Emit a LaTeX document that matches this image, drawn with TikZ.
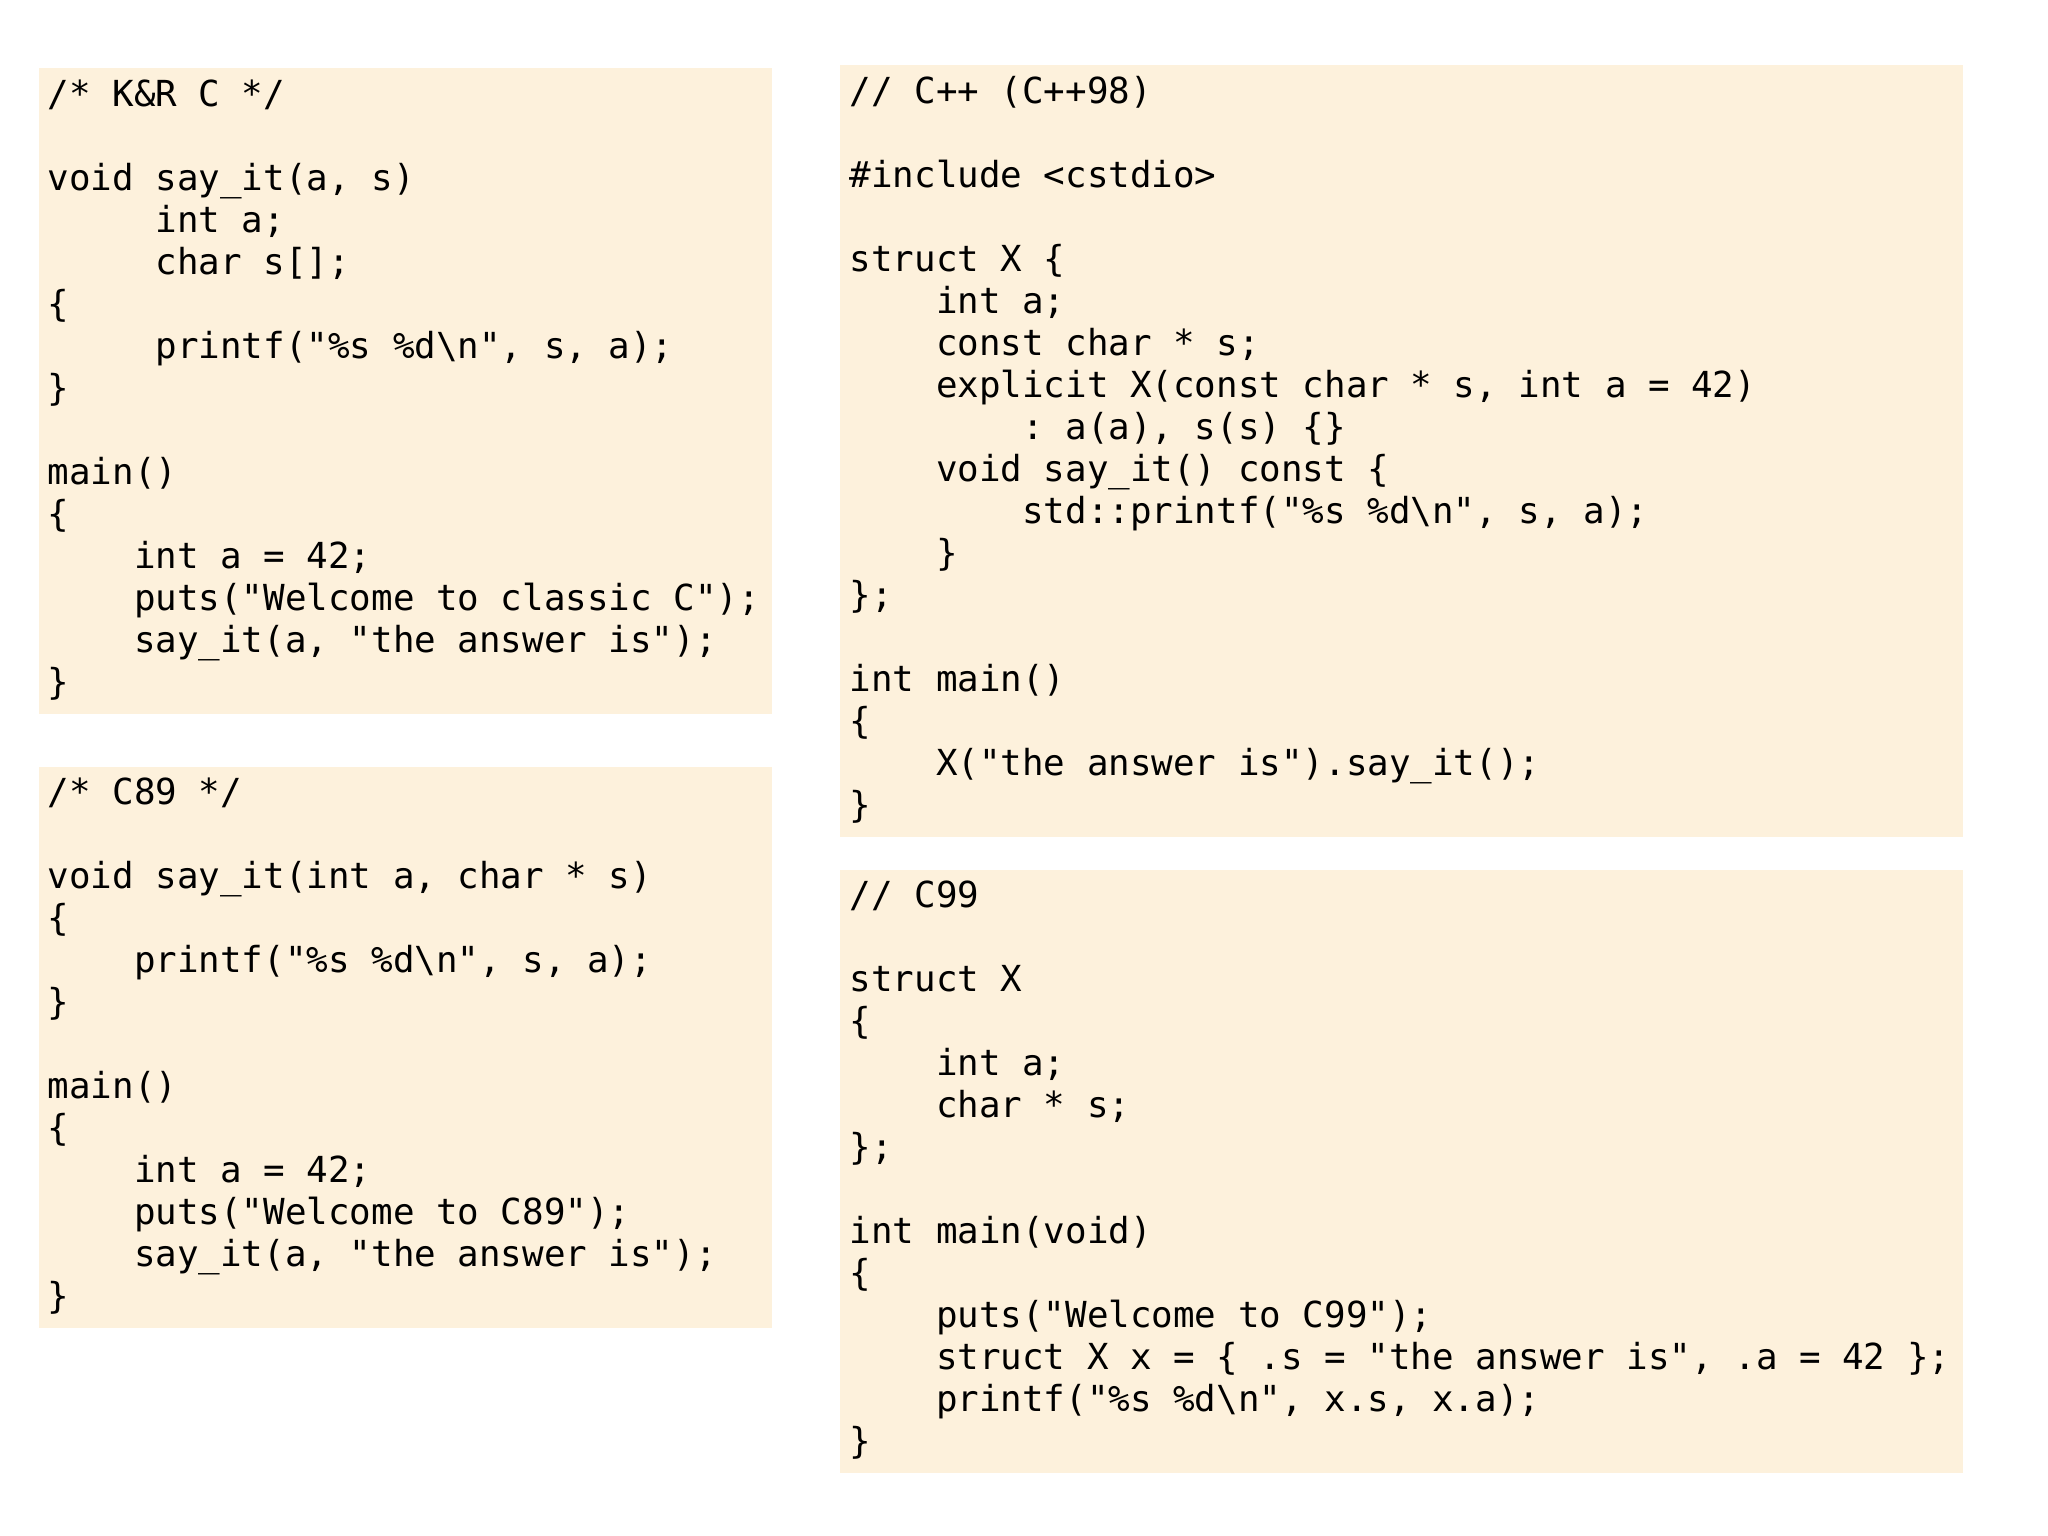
\documentclass[tikz,border=0pt]{standalone}
\usepackage{fontspec}
\setmonofont{DejaVu Sans Mono}
\definecolor{boxbg}{HTML}{FDF1DC}
\begin{document}
\begin{tikzpicture}[x=0.013061cm,y=-0.013061cm,
  code/.style={anchor=base west,align=left,inner sep=0pt,font=\fontsize{10.2pt}{11.95pt}\selectfont\ttfamily}]
\useasboundingbox (0,0) rectangle (1568,1176);
\fill[boxbg] (30,52) rectangle (591,547);
\fill[boxbg] (30,587) rectangle (591,1017);
\fill[boxbg] (643,50) rectangle (1503,641);
\fill[boxbg] (643,666) rectangle (1503,1128);
\node[code] (kr) at (36,532) {/* K\&R C */\\
\mbox{}\\
void say\_it(a, s)\\
~~~~~int a;\\
~~~~~char s[];\\
\{\\
~~~~~printf("\%s \%d\textbackslash n", s, a);\\
\}\\
\mbox{}\\
main()\\
\{\\
~~~~int a = 42;\\
~~~~puts("Welcome to classic C");\\
~~~~say\_it(a, "the answer is");\\
\}};
\node[code] (c89) at (36,1002) {/* C89 */\\
\mbox{}\\
void say\_it(int a, char * s)\\
\{\\
~~~~printf("\%s \%d\textbackslash n", s, a);\\
\}\\
\mbox{}\\
main()\\
\{\\
~~~~int a = 42;\\
~~~~puts("Welcome to C89");\\
~~~~say\_it(a, "the answer is");\\
\}};
\node[code] (cpp) at (650,626) {// C++ (C++98)\\
\mbox{}\\
\#include <cstdio>\\
\mbox{}\\
struct X \{\\
~~~~int a;\\
~~~~const char * s;\\
~~~~explicit X(const char * s, int a = 42)\\
~~~~~~~~: a(a), s(s) \{\}\\
~~~~void say\_it() const \{\\
~~~~~~~~std::printf("\%s \%d\textbackslash n", s, a);\\
~~~~\}\\
\};\\
\mbox{}\\
int main()\\
\{\\
~~~~X("the answer is").say\_it();\\
\}};
\node[code] (c99) at (650,1113) {// C99\\
\mbox{}\\
struct X\\
\{\\
~~~~int a;\\
~~~~char * s;\\
\};\\
\mbox{}\\
int main(void)\\
\{\\
~~~~puts("Welcome to C99");\\
~~~~struct X x = \{ .s = "the answer is", .a = 42 \};\\
~~~~printf("\%s \%d\textbackslash n", x.s, x.a);\\
\}};
\end{tikzpicture}
\end{document}
